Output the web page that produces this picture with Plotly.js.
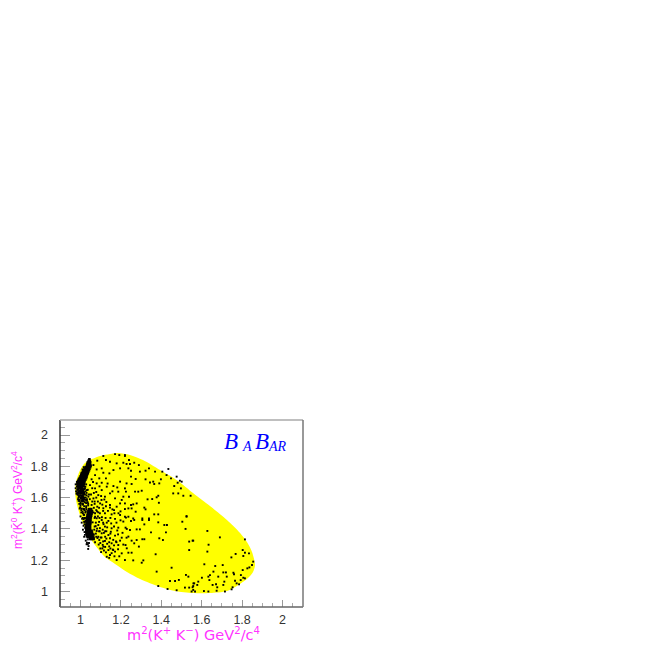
<!DOCTYPE html>
<html><head><meta charset="utf-8">
<script src="https://cdn.plot.ly/plotly-3.0.1.min.js"></script>
<style>html,body{margin:0;padding:0;background:#fff}#c{width:654px;height:654px}</style>
</head><body><div id="c"></div>
<script>
const regionX=[1.047,1.097,1.146,1.186,1.245,1.309,1.394,1.483,1.557,1.641,1.725,1.790,1.824,1.849,1.864,1.854,1.829,1.790,1.725,1.641,1.557,1.468,1.394,1.295,1.230,1.171,1.121,1.087,1.057,1.027,1.002,0.983,0.973,0.978,0.998,1.022,1.047];
const regionY=[1.840,1.866,1.879,1.885,1.872,1.840,1.776,1.706,1.629,1.546,1.457,1.374,1.316,1.252,1.169,1.125,1.086,1.048,1.003,0.990,0.990,1.003,1.029,1.080,1.125,1.176,1.220,1.272,1.323,1.393,1.470,1.553,1.636,1.700,1.776,1.821,1.840];
const lowerRightX=[1.628,1.690,1.555,1.634,1.814,1.628,1.803,1.814,1.834,1.747,1.768,1.806,1.855,1.613,1.667,1.704,1.849,1.836,1.826,1.803,1.757,1.707,1.720,1.658,1.641,1.633,1.601,1.682,1.724,1.760,1.794,1.806,1.793,1.765,1.712,1.638,1.654,1.671,1.677,1.707,1.773,1.785,1.753,1.583,1.559,1.578,1.555,1.567,1.611,1.633,1.674,1.715,1.748,1.550,1.814];
const lowerRightY=[1.387,1.346,1.325,1.299,1.333,1.255,1.265,1.248,1.244,1.218,1.240,1.227,1.191,1.174,1.163,1.169,1.169,1.154,1.148,1.137,1.120,1.122,1.122,1.127,1.105,1.095,1.088,1.095,1.095,1.110,1.105,1.088,1.073,1.069,1.063,1.073,1.042,1.046,1.027,1.042,1.052,1.046,1.027,1.063,1.052,1.042,1.027,1.000,1.003,1.000,1.005,1.000,1.014,1.000,1.084];
const lowerMidX=[1.225,1.250,1.266,1.306,1.339,1.385,1.525,1.504,1.316,1.223,1.245,1.278,1.294,1.349,1.415,1.428,1.423,1.520,1.228,1.253,1.278,1.306,1.316,1.390,1.408,1.538,1.558,1.223,1.266,1.289,1.237,1.253,1.538,1.372,1.261,1.311,1.303,1.451,1.377,1.522,1.534,1.487,1.468,1.443,1.385,1.431,1.476,1.517,1.538,1.558,1.563,1.558];
const lowerMidY=[1.472,1.451,1.457,1.457,1.457,1.442,1.478,1.446,1.429,1.408,1.393,1.397,1.397,1.378,1.425,1.425,1.378,1.400,1.344,1.325,1.329,1.334,1.334,1.340,1.329,1.319,1.325,1.297,1.308,1.287,1.248,1.248,1.265,1.238,1.199,1.199,1.184,1.152,1.127,1.106,1.095,1.074,1.067,1.067,1.035,1.016,1.008,1.025,1.025,1.035,1.052,1.010];
const upperMidX=[1.240,1.228,1.245,1.266,1.289,1.220,1.250,1.294,1.322,1.339,1.369,1.405,1.426,1.435,1.476,1.448,1.322,1.273,1.250,1.228,1.253,1.344,1.360,1.365,1.390,1.398,1.492,1.501,1.481,1.464,1.497,1.459,1.484,1.509,1.545,1.385,1.377,1.355,1.332,1.286,1.303,1.270,1.240,1.388,1.261,1.250,1.278,1.316,1.322,1.273,1.253,1.365,1.385,1.525,1.306,1.261,1.339,1.220,1.220,1.225];
const upperMidY=[1.840,1.815,1.815,1.823,1.808,1.872,1.772,1.766,1.772,1.787,1.766,1.766,1.744,1.783,1.734,1.723,1.717,1.719,1.734,1.691,1.687,1.697,1.702,1.687,1.691,1.717,1.708,1.702,1.695,1.674,1.659,1.627,1.627,1.612,1.612,1.612,1.602,1.591,1.589,1.638,1.644,1.638,1.606,1.567,1.557,1.553,1.563,1.536,1.525,1.510,1.531,1.493,1.493,1.482,1.467,1.467,1.467,1.478,1.563,1.638];
const upperLeftX=[1.126,1.083,1.113,1.171,1.192,1.220,1.146,1.179,1.212,1.237,1.105,1.113,1.163,1.196,1.080,1.064,1.143,1.072,1.093,1.126,1.105,1.196,1.163,1.080,1.055,1.130,1.220,1.187,1.146,1.105,1.072,1.047,1.031,1.088,1.121,1.171,1.212,1.064,1.014,1.039,1.097,1.146,1.196,1.237,1.055,1.062,1.078,1.094,1.118,1.134,1.158,1.182,1.204,1.070,1.102,1.128,1.166];
const upperLeftY=[1.840,1.836,1.866,1.878,1.872,1.866,1.829,1.819,1.823,1.787,1.787,1.759,1.776,1.787,1.780,1.808,1.755,1.744,1.723,1.723,1.695,1.702,1.674,1.691,1.717,1.670,1.659,1.638,1.627,1.648,1.659,1.680,1.648,1.616,1.606,1.595,1.606,1.595,1.584,1.606,1.563,1.553,1.563,1.531,1.553,1.700,1.636,1.672,1.588,1.690,1.640,1.665,1.585,1.575,1.610,1.572,1.520];
const lowerLeftX=[0.998,1.017,1.083,1.113,1.146,1.179,1.220,1.088,1.121,1.154,1.196,1.080,1.105,1.138,1.171,1.212,1.237,1.088,1.121,1.154,1.187,1.229,1.080,1.105,1.138,1.171,1.204,1.237,1.093,1.121,1.154,1.187,1.113,1.138,1.171,1.204,1.146,1.179,1.229,1.220,1.064,1.072,1.060,1.075,1.068,1.082,1.066,1.078,1.072,1.090,1.084,1.098,1.100,1.110,1.102,1.128,1.116,1.142,1.130,1.160,1.095,1.112,1.150,1.176,1.082,1.094,1.122,1.198];
const lowerLeftY=[1.536,1.527,1.542,1.532,1.536,1.542,1.527,1.506,1.500,1.493,1.489,1.468,1.457,1.451,1.464,1.447,1.478,1.425,1.415,1.404,1.408,1.400,1.387,1.372,1.361,1.357,1.344,1.351,1.329,1.323,1.308,1.297,1.287,1.265,1.255,1.244,1.233,1.201,1.276,1.201,1.505,1.478,1.442,1.418,1.395,1.402,1.365,1.350,1.315,1.300,1.342,1.275,1.345,1.298,1.252,1.338,1.262,1.288,1.222,1.268,1.385,1.440,1.382,1.320,1.512,1.470,1.385,1.512];
const edgeX=[0.982,0.990,0.985,0.995,1.000,0.988,0.998,1.006,1.002,0.992,1.010,1.004,1.014,0.986,0.996,1.008,1.018,1.000,1.012,0.990,1.005,1.022,1.015,0.994,1.010,1.025,1.020,1.002,1.030,1.016,0.984,0.998,1.008,1.024,1.012,1.000,1.018,1.032,1.006,1.028,1.014,0.996,1.020,1.036,1.004,1.012,1.028,1.000,1.018,1.038,1.008,1.026,1.016,1.034,1.006,1.022,1.044,1.015,1.030,1.012,1.024,1.040,1.020,1.034,1.030,1.018,1.042,1.026,1.036,1.022,1.030,1.040,1.028,1.036,1.038,1.032,1.010,1.020,1.004,1.014,0.994,0.978,0.976,0.980,0.976];
const edgeY=[1.700,1.712,1.682,1.690,1.725,1.665,1.704,1.742,1.678,1.640,1.712,1.655,1.690,1.618,1.625,1.668,1.672,1.630,1.640,1.600,1.610,1.660,1.620,1.578,1.590,1.640,1.600,1.560,1.615,1.575,1.650,1.668,1.645,1.585,1.560,1.548,1.545,1.590,1.530,1.565,1.528,1.530,1.520,1.570,1.505,1.500,1.535,1.480,1.490,1.550,1.465,1.512,1.462,1.478,1.440,1.446,1.525,1.420,1.450,1.395,1.405,1.505,1.380,1.380,1.350,1.350,1.310,1.325,1.333,1.362,1.302,1.290,1.378,1.302,1.272,1.312,1.615,1.752,1.755,1.772,1.720,1.640,1.660,1.625,1.685];
const denseLeftX=[0.984,0.992,0.988,0.996,1.002,1.006,1.010,1.016,0.990,0.996,0.982,1.000,1.004,0.986,0.992,0.998,1.004,1.010,1.014,1.020,1.024,1.028,1.018,1.008,1.000,0.992,0.988,0.996,1.004,1.012,1.022,1.030,1.036,1.026,1.018,1.008,1.000,0.994,1.012,1.022,1.032,1.042,1.046,1.038,1.028,1.018,1.010,1.004,1.024,1.030,1.016,1.022,1.012,1.026,1.020,1.018,1.024,1.028];
const denseLeftY=[1.690,1.680,1.700,1.720,1.740,1.760,1.780,1.795,1.655,1.660,1.670,1.690,1.700,1.635,1.630,1.645,1.650,1.660,1.645,1.655,1.670,1.685,1.635,1.630,1.615,1.605,1.590,1.585,1.600,1.605,1.620,1.630,1.650,1.600,1.590,1.575,1.570,1.560,1.555,1.570,1.580,1.620,1.590,1.560,1.545,1.525,1.510,1.520,1.505,1.525,1.490,1.470,1.470,1.450,1.430,1.445,1.410,1.375];
const denseRightX=[1.058,1.066,1.052,1.078,1.058,1.070,1.086,1.104,1.066,1.078,1.092,1.108,1.126,1.072,1.096,1.112,1.136,1.158,1.070,1.086,1.106,1.124,1.148,1.168,1.188,1.076,1.092,1.114,1.130,1.152,1.178,1.198,1.070,1.096,1.110,1.132,1.166,1.182,1.076,1.092,1.116,1.128,1.148,1.186,1.208,1.088,1.104,1.122,1.146,1.162,1.178,1.196,1.098,1.112,1.132,1.142,1.166,1.212,1.108,1.122,1.148,1.162,1.186,1.126,1.154,1.192,1.168,1.142];
const denseRightY=[1.660,1.630,1.620,1.600,1.575,1.560,1.575,1.585,1.535,1.520,1.535,1.555,1.545,1.500,1.500,1.515,1.515,1.525,1.470,1.480,1.475,1.470,1.470,1.500,1.500,1.440,1.445,1.430,1.440,1.435,1.440,1.455,1.415,1.405,1.395,1.410,1.415,1.390,1.370,1.385,1.375,1.385,1.370,1.365,1.375,1.350,1.345,1.350,1.340,1.330,1.315,1.325,1.310,1.320,1.305,1.315,1.295,1.300,1.275,1.285,1.275,1.265,1.270,1.250,1.245,1.225,1.225,1.215];
const band1Y=[1.845,1.835,1.825,1.815,1.805,1.795,1.785,1.775,1.765,1.755,1.745,1.735,1.725,1.715,1.705,1.695,1.685,1.675,1.665,1.652,1.640,1.628,1.612,1.598,1.582];
const band1X=[[1.044],[1.040,1.046],[1.036,1.042,1.048],[1.034,1.040,1.046],[1.032,1.038,1.044,1.050],[1.026,1.036,1.042,1.048],[1.020,1.026,1.032,1.038,1.044],[1.016,1.024,1.030,1.036,1.042],[1.012,1.020,1.026,1.032,1.038],[1.010,1.018,1.024,1.030,1.036],[1.004,1.014,1.020,1.026,1.032],[1.000,1.006,1.012,1.018,1.024,1.030],[0.996,1.004,1.010,1.016,1.022,1.028],[0.992,1.000,1.006,1.012,1.018,1.024],[0.988,0.996,1.002,1.008,1.014,1.020],[0.990,0.998,1.006,1.012,1.018],[0.986,0.994,1.002,1.010,1.016],[0.990,0.998,1.004,1.012],[0.994,1.000,1.008],[0.988,1.002,1.012],[0.996,1.008],[0.986,1.004,1.016],[0.994,1.010],[1.002,1.014],[0.992,1.008]];
const band2Y=[1.525,1.512,1.500,1.487,1.475,1.462,1.450,1.437,1.425,1.412,1.400,1.387,1.375,1.362,1.350,1.337];
const band2X=[[1.044,1.052],[1.040,1.048,1.056],[1.038,1.046,1.054],[1.036,1.044,1.052],[1.034,1.042,1.050],[1.032,1.040,1.048],[1.032,1.040,1.048],[1.032,1.040,1.048],[1.030,1.038,1.046],[1.030,1.038,1.046],[1.030,1.038,1.046],[1.030,1.038,1.046,1.054],[1.032,1.040,1.048,1.056],[1.034,1.042,1.050,1.058],[1.038,1.046,1.054,1.062],[1.048,1.056,1.064]];
const tickFont={family:'Liberation Sans, Arial, sans-serif',size:12.5,color:'#333'};
const pink='#ff33ff';
const xTitle='m<sup>2</sup>(K<sup>+</sup> K<sup>\u2212</sup>) GeV<sup>2</sup>/c<sup>4</sup>';
const yTitle='m<sup>2</sup>(K\u0304<sup>0</sup> K<sup>+</sup>) GeV<sup>2</sup>/c<sup>4</sup>';
const dots=(x,y,s)=>({type:'scatter',mode:'markers',x,y,hoverinfo:'skip',marker:{symbol:'square',size:s,color:'#000',line:{width:0}}});
const expand=(ys,xs)=>{const X=[],Y=[];ys.forEach((y,i)=>xs[i].forEach(x=>{X.push(x);Y.push(y);}));return [X,Y];};
const sparseX=[].concat(lowerRightX,lowerMidX,upperMidX,upperLeftX,lowerLeftX,edgeX,denseLeftX,denseRightX);
const sparseY=[].concat(lowerRightY,lowerMidY,upperMidY,upperLeftY,lowerLeftY,edgeY,denseLeftY,denseRightY);
const [b1x,b1y]=expand(band1Y,band1X);
const [b2x,b2y]=expand(band2Y,band2X);
const data=[
 {type:'scatter',mode:'lines',x:regionX,y:regionY,fill:'toself',fillcolor:'#ffff00',line:{width:0,color:'#ffff00',shape:'spline',smoothing:0.8},hoverinfo:'skip'},
 dots(sparseX,sparseY,1.9),dots(b1x,b1y,2.6),dots(b2x,b2y,3)
];
const serif='Liberation Serif, Times New Roman, serif';
const logo=(t,px,size)=>({text:'<i>'+t+'</i>',xref:'paper',yref:'paper',x:(px-60)/243,y:(607-451)/187,xanchor:'left',yanchor:'bottom',yshift:-5,showarrow:false,font:{family:serif,size,color:'#0000ff'}});
const edge=(x0,y0,x1,y1,c)=>({type:'line',xref:'paper',yref:'paper',x0,y0,x1,y1,line:{color:c,width:1.5}});
const layout={width:654,height:654,showlegend:false,paper_bgcolor:'#fff',plot_bgcolor:'#fff',
 margin:{l:60,r:351,t:420,b:47},
 xaxis:{range:[0.8985,2.1015],tick0:0,dtick:0.2,ticks:'inside',ticklen:7,tickcolor:'#999',tickwidth:1,showgrid:false,zeroline:false,showline:false,tickfont:tickFont,ticklabelstandoff:3,minor:{dtick:0.05,ticks:'inside',ticklen:4,tickcolor:'#aaa',tickwidth:1,showgrid:false}},
 yaxis:{range:[0.901,2.096],tick0:0,dtick:0.2,ticks:'inside',ticklen:10,tickcolor:'#999',tickwidth:1,showgrid:false,zeroline:false,showline:false,tickfont:tickFont,ticklabelstandoff:11,minor:{dtick:0.05,ticks:'inside',ticklen:5,tickcolor:'#aaa',tickwidth:1,showgrid:false}},
 shapes:[edge(0,0,0,1,'#333'),edge(0,0,1,0,'#666'),edge(0,1,1,1,'#aaa'),edge(1,0,1,1,'#777')],
 annotations:[
  logo('B',222,23),logo('A',240,14),logo('B',253,23),logo('AR',266,14),
  {text:xTitle,xref:'paper',yref:'paper',x:(193-60)/243,y:(607-634)/187,xanchor:'center',yanchor:'middle',showarrow:false,font:{family:'DejaVu Sans, sans-serif',size:14.5,color:pink}},
  {text:yTitle,xref:'paper',yref:'paper',x:(17-60)/243,y:(607-500)/187,xanchor:'center',yanchor:'middle',textangle:-90,showarrow:false,font:{family:'Liberation Sans, Arial, sans-serif',size:12,color:pink}}
 ]};
Plotly.newPlot('c',data,layout,{staticPlot:true,displayModeBar:false});
</script></body></html>
